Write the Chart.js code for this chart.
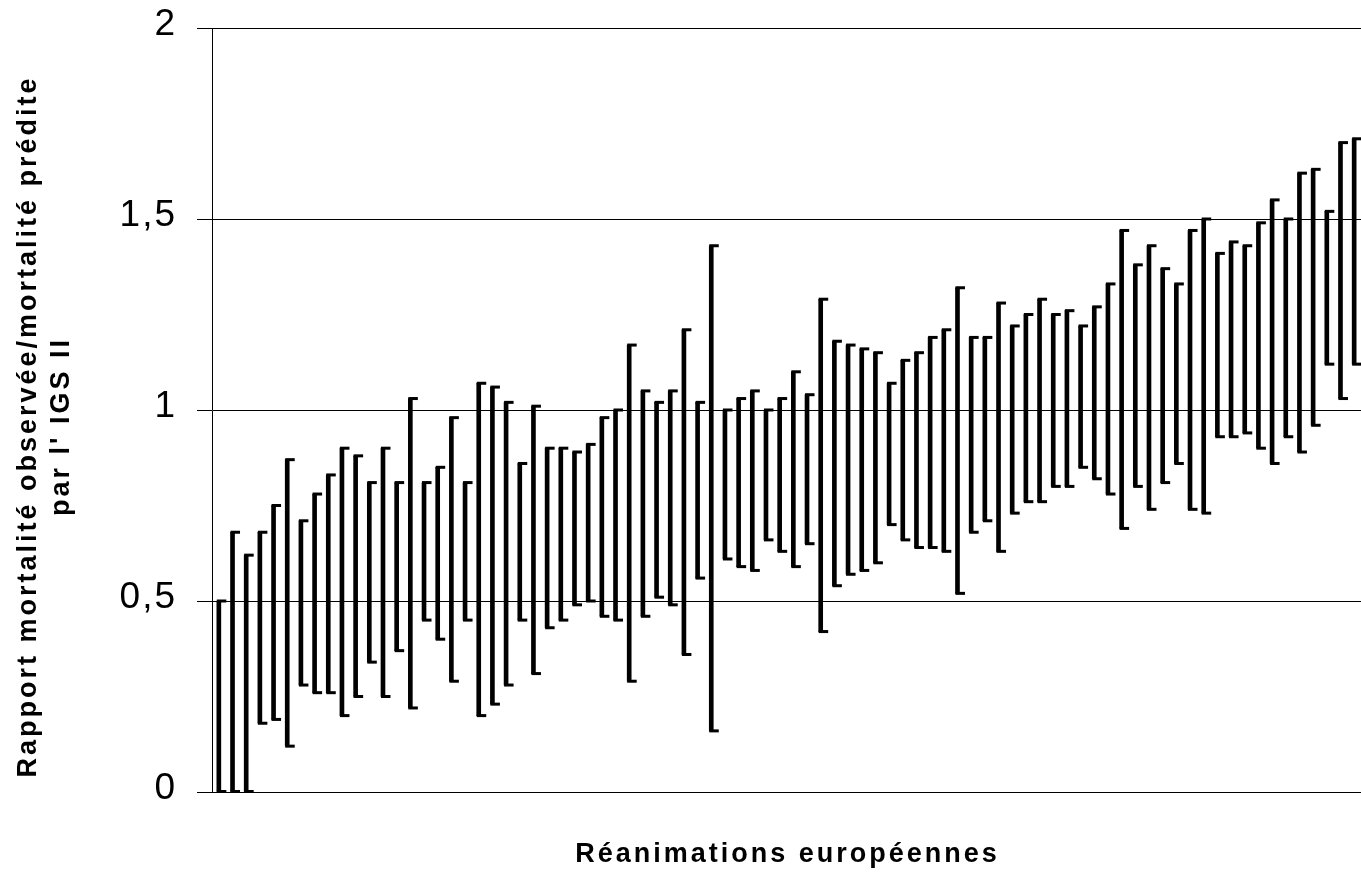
<!DOCTYPE html>
<html lang="fr">
<head>
<meta charset="utf-8">
<title>Rapport mortalité observée/mortalité prédite</title>
<script src="https://cdn.jsdelivr.net/npm/chart.js@4/dist/chart.umd.min.js"></script>
<style>
  html, body { margin: 0; padding: 0; background: #ffffff; }
  #cadre { width: 1361px; height: 872px; position: relative; }
</style>
</head>
<body>
<div id="cadre"><canvas id="graphe"></canvas></div>
<script>
// Intervalle du rapport observé/prédit pour chaque réanimation (borne basse, borne haute)
const bornesInf = [
  0.00, 0.00, 0.00, 0.18, 0.19, 0.12, 0.28, 0.26, 0.26, 0.20,
  0.25, 0.34, 0.25, 0.37, 0.22, 0.45, 0.40, 0.29, 0.45, 0.20,
  0.23, 0.28, 0.45, 0.31, 0.43, 0.45, 0.49, 0.50, 0.46, 0.45,
  0.29, 0.46, 0.51, 0.49, 0.36, 0.56, 0.16, 0.61, 0.59, 0.58,
  0.66, 0.63, 0.59, 0.65, 0.42, 0.54, 0.57, 0.58, 0.60, 0.70,
  0.66, 0.64, 0.64, 0.63, 0.52, 0.68, 0.71, 0.63, 0.73, 0.76,
  0.76, 0.80, 0.80, 0.85, 0.82, 0.78, 0.69, 0.80, 0.74, 0.81,
  0.86, 0.74, 0.73, 0.93, 0.93, 0.94, 0.90, 0.86, 0.93, 0.89,
  0.96, 1.12, 1.03, 1.12
];
const bornesSup = [
  0.50, 0.68, 0.62, 0.68, 0.75, 0.87, 0.71, 0.78, 0.83, 0.90,
  0.88, 0.81, 0.90, 0.81, 1.03, 0.81, 0.85, 0.98, 0.81, 1.07,
  1.06, 1.02, 0.86, 1.01, 0.90, 0.90, 0.89, 0.91, 0.98, 1.00,
  1.17, 1.05, 1.02, 1.05, 1.21, 1.02, 1.43, 1.00, 1.03, 1.05,
  1.00, 1.03, 1.10, 1.04, 1.29, 1.18, 1.17, 1.16, 1.15, 1.07,
  1.13, 1.15, 1.19, 1.21, 1.32, 1.19, 1.19, 1.28, 1.22, 1.25,
  1.29, 1.25, 1.26, 1.22, 1.27, 1.33, 1.47, 1.38, 1.43, 1.37,
  1.33, 1.47, 1.50, 1.41, 1.44, 1.43, 1.49, 1.55, 1.50, 1.62,
  1.63, 1.52, 1.70, 1.71
];
// Une catégorie par service de réanimation (étiquettes non affichées)
const reanimations = bornesInf.map((_, i) => 'Réa ' + (i + 1));
// Graduations de l'axe vertical
const valeursGraduation = [0, 0.5, 1, 1.5, 2];
const etiquettesGraduation = ['0', '0,5', '1', '1,5', '2'];

const titreX = 'Réanimations européennes';
const titreY = ['Rapport mortalité observée/mortalité prédite', "par l' IGS II"];

const POLICE = '"Liberation Sans", Arial, sans-serif';

// Léger espacement des chiffres de l'axe vertical
const espacement = {
  id: 'espacement',
  beforeDraw(chart) { chart.ctx.letterSpacing = '2px'; }
};

// Petits traits horizontaux aux deux extrémités de chaque intervalle
const crochets = {
  id: 'crochets',
  afterDatasetsDraw(chart) {
    const ctx = chart.ctx;
    const meta = chart.getDatasetMeta(0);
    ctx.save();
    ctx.fillStyle = '#000000';
    meta.data.forEach(barre => {
      const { x, y, base, width } = barre.getProps(['x', 'y', 'base', 'width'], true);
      const gauche = x - width / 2;
      [y, base].forEach(py => ctx.fillRect(gauche, py - 1.5, 9.5, 3));
    });
    ctx.restore();
  }
};

// Titres des axes, en gras et espacés
const titres = {
  id: 'titres',
  afterDraw(chart) {
    const ctx = chart.ctx;
    const zone = chart.chartArea;
    ctx.save();
    ctx.fillStyle = '#000000';
    ctx.font = 'bold 27px ' + POLICE;
    ctx.letterSpacing = '3px';
    ctx.textAlign = 'center';
    ctx.textBaseline = 'alphabetic';
    ctx.fillText(titreX, (zone.left + zone.right) / 2 + 1, chart.height - 10);
    ctx.translate(0, (zone.top + zone.bottom) / 2 + 18);
    ctx.rotate(-Math.PI / 2);
    ctx.textBaseline = 'middle';
    titreY.forEach((ligne, i) => ctx.fillText(ligne, 1.5, 29 + i * 33));
    ctx.restore();
  }
};

new Chart(document.getElementById('graphe'), {
  type: 'bar',
  data: {
    labels: reanimations,
    datasets: [{
      data: bornesInf.map((b, i) => [b, bornesSup[i]]),
      backgroundColor: '#000000',
      borderWidth: 0,
      barThickness: 4
    }]
  },
  options: {
    responsive: true,
    maintainAspectRatio: false,
    animation: false,
    events: [],
    layout: { padding: { top: 28, right: 0, bottom: 0, left: 0 } },
    plugins: {
      legend: { display: false },
      tooltip: { enabled: false },
      title: { display: false }
    },
    scales: {
      x: {
        type: 'category',
        offset: true,
        grid: { display: false, drawTicks: false },
        border: { display: true, color: '#000000', width: 1 },
        ticks: { display: false },
        afterFit(scale) { scale.height = 80; }
      },
      y: {
        min: 0,
        max: 2,
        afterBuildTicks(scale) {
          scale.ticks = valeursGraduation.map(v => ({ value: v }));
        },
        ticks: {
          color: '#000000',
          font: { family: POLICE, size: 37 },
          padding: 20,
          labelOffset: -3,
          callback: v => etiquettesGraduation[valeursGraduation.indexOf(v)]
        },
        grid: {
          color: '#000000',
          lineWidth: 1,
          tickLength: 15,
          tickColor: '#000000'
        },
        border: { display: true, color: '#000000', width: 1 },
        afterFit(scale) {
          scale.width = 212;
          scale.paddingTop = 0;
          scale.paddingBottom = 0;
        }
      }
    }
  },
  plugins: [espacement, crochets, titres]
});
</script>
</body>
</html>
